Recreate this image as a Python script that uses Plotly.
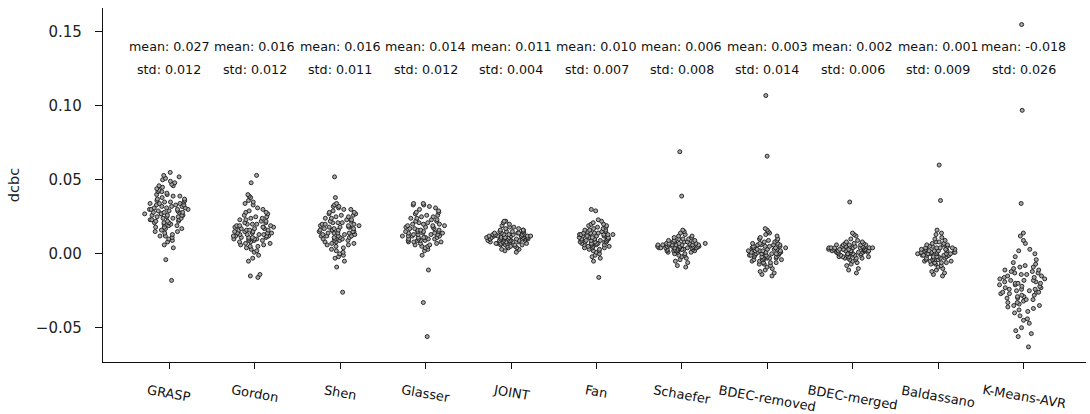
import plotly.graph_objects as go

categories = ["GRASP", "Gordon", "Shen", "Glasser", "JOINT", "Fan", "Schaefer",
              "BDEC-removed", "BDEC-merged", "Baldassano", "K-Means-AVR"]
means = [0.027, 0.016, 0.016, 0.014, 0.011, 0.010, 0.006, 0.003, 0.002, 0.001, -0.018]
stds = [0.012, 0.012, 0.011, 0.012, 0.004, 0.007, 0.008, 0.014, 0.006, 0.009, 0.026]

grasp = [0.055, 0.053, 0.052, 0.051, 0.050, 0.049, 0.048, 0.047, 0.046, 0.046, 0.045, 0.044,
         0.043, 0.042, 0.042, 0.041, 0.040, 0.040, 0.039, 0.039, 0.038, 0.037, 0.037, 0.036,
         0.036, 0.035, 0.035, 0.035, 0.034, 0.034, 0.034, 0.033, 0.033, 0.033, 0.032, 0.032,
         0.032, 0.031, 0.031, 0.031, 0.030, 0.030, 0.030, 0.030, 0.029, 0.029, 0.029, 0.028,
         0.028, 0.028, 0.028, 0.027, 0.027, 0.027, 0.026, 0.026, 0.026, 0.026, 0.025, 0.025,
         0.025, 0.024, 0.024, 0.024, 0.023, 0.023, 0.023, 0.022, 0.022, 0.022, 0.021, 0.021,
         0.021, 0.020, 0.020, 0.019, 0.019, 0.018, 0.018, 0.017, 0.017, 0.016, 0.015, 0.015,
         0.014, 0.013, 0.012, 0.012, 0.011, 0.010, 0.009, 0.008, 0.006, 0.004, -0.004, -0.018]
gordon = [0.053, 0.048, 0.040, 0.039, 0.038, 0.036, 0.035, 0.034, 0.033, 0.031, 0.030, 0.029,
          0.028, 0.028, 0.027, 0.026, 0.025, 0.025, 0.024, 0.024, 0.023, 0.023, 0.022, 0.022,
          0.021, 0.021, 0.020, 0.020, 0.020, 0.019, 0.019, 0.019, 0.018, 0.018, 0.018, 0.018,
          0.017, 0.017, 0.017, 0.016, 0.016, 0.016, 0.016, 0.015, 0.015, 0.015, 0.014, 0.014,
          0.014, 0.014, 0.013, 0.013, 0.013, 0.013, 0.012, 0.012, 0.012, 0.012, 0.011, 0.011,
          0.011, 0.011, 0.010, 0.010, 0.010, 0.010, 0.009, 0.009, 0.009, 0.008, 0.008, 0.007,
          0.007, 0.006, 0.006, 0.005, 0.005, 0.004, 0.003, 0.002, 0.001, -0.001, -0.003, -0.005,
          -0.014, -0.015, -0.016]
shen = [0.052, 0.038, 0.034, 0.033, 0.032, 0.032, 0.031, 0.030, 0.030, 0.029, 0.028, 0.028,
        0.027, 0.027, 0.026, 0.026, 0.025, 0.025, 0.024, 0.024, 0.023, 0.023, 0.022, 0.022,
        0.021, 0.021, 0.021, 0.020, 0.020, 0.020, 0.019, 0.019, 0.019, 0.018, 0.018, 0.018,
        0.018, 0.017, 0.017, 0.017, 0.016, 0.016, 0.016, 0.016, 0.015, 0.015, 0.015, 0.014,
        0.014, 0.014, 0.014, 0.013, 0.013, 0.013, 0.012, 0.012, 0.012, 0.012, 0.011, 0.011,
        0.011, 0.010, 0.010, 0.010, 0.009, 0.009, 0.009, 0.008, 0.008, 0.007, 0.007, 0.006,
        0.006, 0.005, 0.004, 0.003, 0.002, 0.001, 0.000, -0.001, -0.002, -0.003, -0.005,
        -0.009, -0.026]
glasser = [0.034, 0.034, 0.033, 0.033, 0.032, 0.031, 0.030, 0.029, 0.028, 0.028, 0.027, 0.026,
           0.026, 0.025, 0.025, 0.024, 0.024, 0.023, 0.023, 0.022, 0.022, 0.021, 0.021, 0.020,
           0.020, 0.020, 0.019, 0.019, 0.019, 0.018, 0.018, 0.018, 0.017, 0.017, 0.017, 0.016,
           0.016, 0.016, 0.015, 0.015, 0.015, 0.015, 0.014, 0.014, 0.014, 0.014, 0.013, 0.013,
           0.013, 0.013, 0.012, 0.012, 0.012, 0.012, 0.011, 0.011, 0.011, 0.011, 0.010, 0.010,
           0.010, 0.010, 0.009, 0.009, 0.009, 0.009, 0.008, 0.008, 0.008, 0.007, 0.007, 0.006,
           0.006, 0.005, 0.005, 0.004, 0.003, 0.002, -0.001, -0.011, -0.033, -0.056]
joint = [0.022, 0.022, 0.021, 0.020, 0.019, 0.018, 0.018, 0.017, 0.017, 0.016, 0.016, 0.016,
         0.015, 0.015, 0.015, 0.015, 0.014, 0.014, 0.014, 0.014, 0.013, 0.013, 0.013, 0.013,
         0.013, 0.012, 0.012, 0.012, 0.012, 0.012, 0.012, 0.011, 0.011, 0.011, 0.011, 0.011,
         0.011, 0.011, 0.010, 0.010, 0.010, 0.010, 0.010, 0.010, 0.010, 0.009, 0.009, 0.009,
         0.009, 0.009, 0.009, 0.008, 0.008, 0.008, 0.008, 0.008, 0.007, 0.007, 0.007, 0.007,
         0.006, 0.006, 0.006, 0.006, 0.005, 0.005, 0.005, 0.004, 0.004, 0.003, 0.003, 0.002,
         0.001, 0.012, 0.010, 0.009, 0.011, 0.013, 0.008, 0.010, 0.012, 0.007, 0.011, 0.014]
fan = [0.030, 0.029, 0.023, 0.022, 0.021, 0.020, 0.020, 0.019, 0.019, 0.018, 0.018, 0.017,
       0.017, 0.016, 0.016, 0.016, 0.015, 0.015, 0.015, 0.014, 0.014, 0.014, 0.013, 0.013,
       0.013, 0.013, 0.012, 0.012, 0.012, 0.012, 0.011, 0.011, 0.011, 0.011, 0.010, 0.010,
       0.010, 0.010, 0.009, 0.009, 0.009, 0.009, 0.008, 0.008, 0.008, 0.008, 0.007, 0.007,
       0.007, 0.007, 0.006, 0.006, 0.006, 0.005, 0.005, 0.005, 0.004, 0.004, 0.004, 0.003,
       0.003, 0.002, 0.002, 0.001, 0.000, -0.001, -0.002, -0.003, -0.005, -0.016, 0.013,
       0.010, 0.008, 0.012, 0.009, 0.011, 0.006, 0.014, 0.007, 0.010]
schaefer = [0.069, 0.039, 0.016, 0.015, 0.014, 0.013, 0.012, 0.012, 0.011, 0.011, 0.010, 0.010,
            0.010, 0.009, 0.009, 0.009, 0.008, 0.008, 0.008, 0.008, 0.007, 0.007, 0.007, 0.007,
            0.007, 0.006, 0.006, 0.006, 0.006, 0.006, 0.006, 0.005, 0.005, 0.005, 0.005, 0.005,
            0.005, 0.004, 0.004, 0.004, 0.004, 0.004, 0.004, 0.003, 0.003, 0.003, 0.003, 0.003,
            0.002, 0.002, 0.002, 0.002, 0.001, 0.001, 0.001, 0.000, 0.000, -0.001, -0.001,
            -0.002, -0.003, -0.004, -0.005, -0.006, -0.008, -0.009, 0.005, 0.004, 0.006, 0.003,
            0.005, 0.007, 0.002, 0.004, 0.006, 0.005, 0.003, 0.008, 0.004, 0.006]
bdec_removed = [0.107, 0.066, 0.017, 0.016, 0.015, 0.014, 0.013, 0.012, 0.011, 0.010, 0.010,
                0.009, 0.009, 0.008, 0.008, 0.007, 0.007, 0.007, 0.006, 0.006, 0.006, 0.005,
                0.005, 0.005, 0.004, 0.004, 0.004, 0.003, 0.003, 0.003, 0.002, 0.002, 0.002,
                0.002, 0.001, 0.001, 0.001, 0.001, 0.000, 0.000, 0.000, 0.000, -0.001, -0.001,
                -0.001, -0.001, -0.002, -0.002, -0.002, -0.003, -0.003, -0.003, -0.004, -0.004,
                -0.004, -0.005, -0.005, -0.006, -0.006, -0.007, -0.007, -0.008, -0.009, -0.010,
                -0.011, -0.012, -0.013, -0.014, -0.015, 0.003, 0.001, -0.002, 0.005, 0.000,
                -0.004, 0.002, 0.006, -0.001, 0.004, -0.006, 0.001, -0.003]
bdec_merged = [0.035, 0.014, 0.013, 0.012, 0.010, 0.009, 0.008, 0.008, 0.007, 0.007, 0.007,
               0.006, 0.006, 0.006, 0.006, 0.005, 0.005, 0.005, 0.005, 0.004, 0.004, 0.004,
               0.004, 0.004, 0.003, 0.003, 0.003, 0.003, 0.003, 0.002, 0.002, 0.002, 0.002,
               0.002, 0.001, 0.001, 0.001, 0.001, 0.001, 0.000, 0.000, 0.000, 0.000, -0.001,
               -0.001, -0.001, -0.001, -0.002, -0.002, -0.002, -0.003, -0.003, -0.003, -0.004,
               -0.004, -0.005, -0.006, -0.007, -0.008, -0.010, -0.011, -0.013, 0.004, 0.002,
               0.005, 0.001, 0.003, -0.002, 0.006, 0.000, 0.003, 0.004, -0.001, 0.002, 0.005,
               0.001, 0.003, -0.003, 0.004, 0.002]
baldassano = [0.060, 0.036, 0.016, 0.014, 0.013, 0.011, 0.010, 0.009, 0.008, 0.008, 0.007,
              0.007, 0.006, 0.006, 0.005, 0.005, 0.004, 0.004, 0.004, 0.003, 0.003, 0.003,
              0.002, 0.002, 0.002, 0.001, 0.001, 0.001, 0.001, 0.000, 0.000, 0.000, 0.000,
              -0.001, -0.001, -0.001, -0.001, -0.002, -0.002, -0.002, -0.003, -0.003, -0.003,
              -0.004, -0.004, -0.004, -0.005, -0.005, -0.006, -0.006, -0.007, -0.007, -0.008,
              -0.009, -0.010, -0.011, -0.012, -0.013, -0.014, -0.015, 0.002, -0.001, 0.004,
              0.000, -0.003, 0.001, 0.003, -0.002, 0.005, -0.004, 0.001, 0.000, -0.006, 0.002,
              0.006, -0.001, 0.003, -0.005]
kmeans_avr = [0.155, 0.097, 0.034, 0.014, 0.012, 0.009, 0.007, 0.003, 0.002, 0.000, -0.002,
              -0.004, -0.006, -0.007, -0.008, -0.009, -0.010, -0.011, -0.012, -0.012, -0.013,
              -0.014, -0.014, -0.015, -0.016, -0.016, -0.017, -0.018, -0.018, -0.019, -0.020,
              -0.020, -0.021, -0.022, -0.022, -0.023, -0.024, -0.024, -0.025, -0.026, -0.026,
              -0.027, -0.028, -0.028, -0.029, -0.030, -0.030, -0.031, -0.032, -0.033, -0.033,
              -0.034, -0.035, -0.036, -0.037, -0.038, -0.039, -0.040, -0.042, -0.044, -0.045,
              -0.047, -0.050, -0.052, -0.054, -0.056, -0.063, -0.011, -0.017, -0.021, -0.025,
              -0.015, -0.019, -0.027, -0.013, -0.023, -0.029, -0.009, -0.031, -0.018, -0.024,
              -0.035, -0.020, -0.026]

series = [grasp, gordon, shen, glasser, joint, fan, schaefer,
          bdec_removed, bdec_merged, baldassano, kmeans_avr]

ytick_vals = [-0.05, 0.0, 0.05, 0.10, 0.15]
ytick_text = ["\u22120.05", "0.00", "0.05", "0.10", "0.15"]

FONT = "DejaVu Sans"
fig = go.Figure()
for cat, vals in zip(categories, series):
    fig.add_trace(go.Box(
        x=[cat] * len(vals), y=vals, name=cat,
        boxpoints="all", jitter=1, pointpos=0, width=0.58,
        line=dict(color="rgba(0,0,0,0)", width=0),
        fillcolor="rgba(0,0,0,0)",
        marker=dict(size=4, color="#a6a6a6", line=dict(color="#1a1a1a", width=0.9)),
        hoveron="points", showlegend=False,
    ))

annotations = []
for cat, m, s in zip(categories, means, stds):
    annotations.append(dict(x=cat, y=0.140, xref="x", yref="y", showarrow=False,
                            text=f"mean: {m:.3f}", font=dict(family=FONT, size=12.7, color="#111")))
    annotations.append(dict(x=cat, y=0.1245, xref="x", yref="y", showarrow=False,
                            text=f"std: {s:.3f}", font=dict(family=FONT, size=12.7, color="#111")))
    annotations.append(dict(x=cat, y=0, xref="x", yref="paper", yanchor="top", yshift=-18,
                            showarrow=False, textangle=10, text=cat,
                            font=dict(family=FONT, size=13, color="#111")))

fig.update_layout(
    width=1090, height=414,
    margin=dict(l=103, r=4, t=8, b=52),
    plot_bgcolor="white", paper_bgcolor="white",
    font=dict(family=FONT, color="#111"),
    annotations=annotations,
    xaxis=dict(type="category", categoryorder="array", categoryarray=categories,
               range=[-0.773, 10.726], showline=True, linecolor="#111", linewidth=1.4,
               ticks="outside", ticklen=6, tickwidth=1.3, tickcolor="#111",
               showticklabels=False, showgrid=False, zeroline=False),
    yaxis=dict(range=[-0.0732, 0.1662], tickvals=ytick_vals, ticktext=ytick_text,
               showline=True, linecolor="#111", linewidth=1.4,
               ticks="outside", ticklen=7, tickwidth=1.3, tickcolor="#111",
               ticklabelstandoff=10,
               tickfont=dict(family=FONT, size=15, color="#222"),
               title=dict(text="dcbc", font=dict(family=FONT, size=14.5, color="#222"), standoff=12),
               showgrid=False, zeroline=False),
)

fig.write_html("out.html")
